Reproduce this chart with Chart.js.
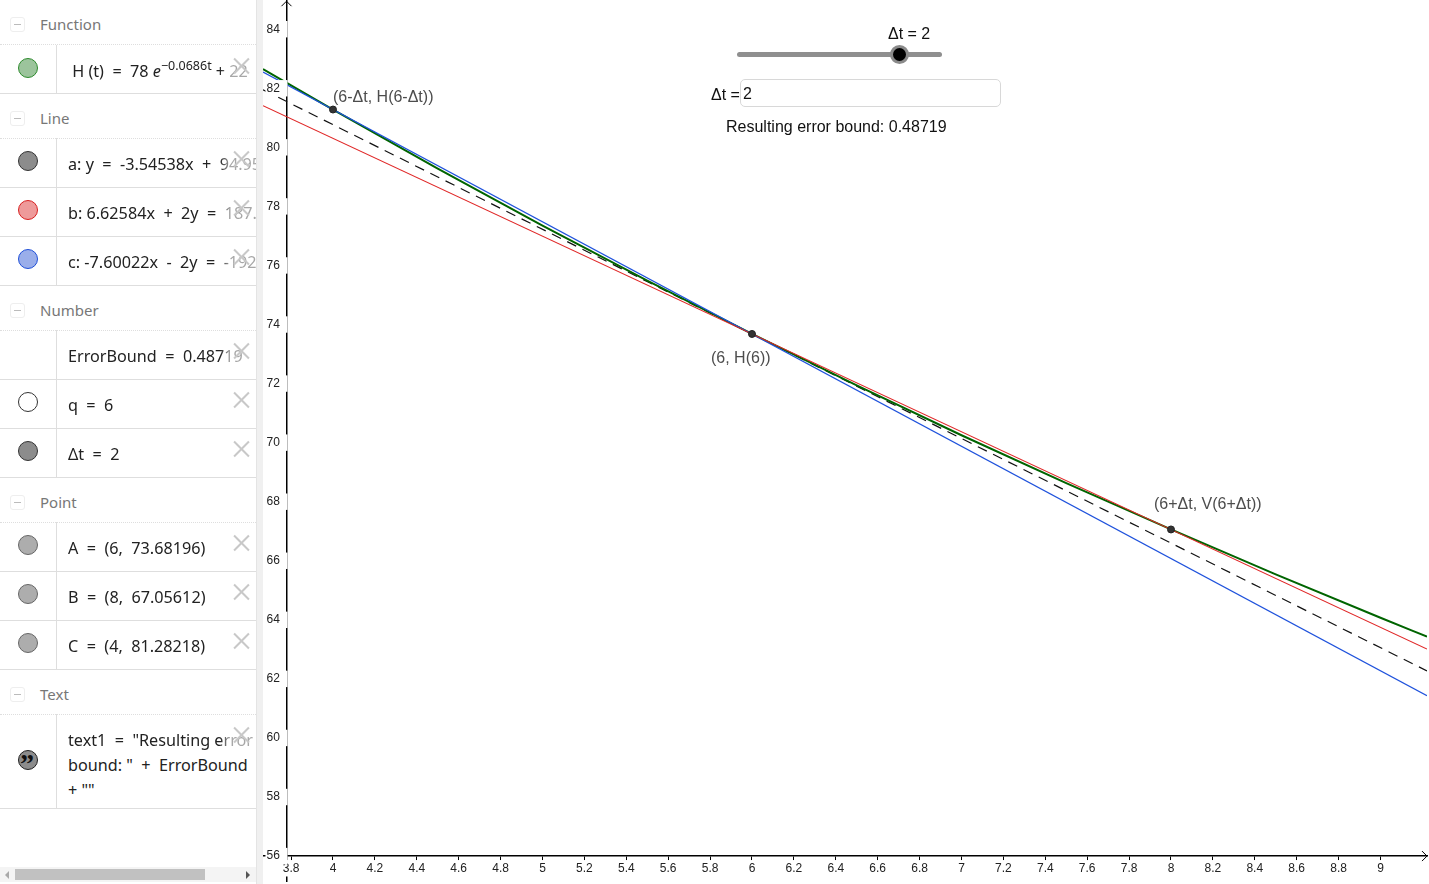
<!DOCTYPE html>
<html>
<head>
<meta charset="utf-8">
<script src="https://cdn.jsdelivr.net/npm/chart.js@4/dist/chart.umd.min.js"></script>
<style>
html, body { margin: 0; padding: 0; background: #fff; overflow: hidden; }
#wrap { position: absolute; left: 0; top: 0; width: 1429px; height: 884px; overflow: hidden; }
/* canvas is a bit larger than the window so the plot area can run to the edges */
#wrap canvas { position: absolute; left: 0; top: -10px; }
#side { position: absolute; left: 0; top: 0; width: 256px; height: 884px; background: #fff; overflow: hidden; font-family: "Noto Sans", sans-serif; }
#splitter { position: absolute; left: 256px; top: 0; width: 6px; height: 884px; background: #f0f0f0; border-left: 1px solid #e4e4e4; }
.head { position: absolute; left: 40px; font-size: 15px; color: #777; line-height: 20px; }
.fold { position: absolute; left: 10px; width: 15px; height: 15px; border: 1px solid #eee; border-radius: 3px; box-sizing: border-box; }
.fold:after { content: ""; position: absolute; left: 3px; top: 6px; width: 7px; height: 1px; background: #bbb; }
.hline { position: absolute; left: 0; width: 256px; height: 0; border-top: 1px solid #dedede; }
.hline.dash { border-top: 1px dotted #dedede; }
.vline { position: absolute; left: 56px; width: 0; border-left: 1px solid #dedede; }
.marble { position: absolute; left: 18px; width: 20px; height: 20px; border-radius: 50%; box-sizing: border-box; border: 1px solid; }
.val { position: absolute; left: 68px; width: 188px; font-size: 16.2px; color: #222; white-space: nowrap; overflow: hidden; line-height: 25px;
  -webkit-mask-image: linear-gradient(to right, #000 0, #000 152px, rgba(0,0,0,.4) 162px, rgba(0,0,0,.4) 188px); }
.val.plain { -webkit-mask-image: none; }
.val sup { font-size: 12.5px; line-height: 0; vertical-align: 7px; }
.cross { position: absolute; left: 233px; width: 17px; height: 17px; }
.cross:before, .cross:after { content: ""; position: absolute; left: -2px; top: 7px; width: 21px; height: 2px; background: #c8c8c8; }
.cross:before { transform: rotate(45deg); }
.cross:after { transform: rotate(-45deg); }
#scrollTrack { position: absolute; left: 0; top: 867px; width: 256px; height: 15px; background: #f4f4f4; }
#scrollThumb { position: absolute; left: 15px; top: 2px; width: 190px; height: 11px; background: #c1c1c1; }
#arrowL, #arrowR { position: absolute; top: 4px; width: 0; height: 0; border-top: 4px solid transparent; border-bottom: 4px solid transparent; }
#arrowL { left: 5px; border-right: 4px solid #aaa; }
#arrowR { left: 246px; border-left: 4px solid #555; }
.view { position: absolute; font-family: "Liberation Sans", sans-serif; font-size: 16px; color: #111; white-space: nowrap; line-height: 20px; }
#track { position: absolute; left: 737px; top: 52px; width: 205px; height: 5px; background: #8f8f8f; border-radius: 3px; }
#knob { position: absolute; left: 890px; top: 45px; width: 13px; height: 13px; background: #000; border-radius: 50%; border: 3px solid #8a8a8a; }
#input { position: absolute; left: 740px; top: 79px; width: 261px; height: 28px; box-sizing: border-box; border: 1.5px solid #d8d8d8; border-radius: 5px; background: #fff; padding-left: 2px; font-family: "Liberation Sans", sans-serif; font-size: 16px; line-height: 28px; color: #111; }
</style>
</head>
<body>
<div id="wrap">
  <canvas id="graphChart" width="1439" height="904"></canvas>
  <div id="splitter"></div>
  <div id="side"></div>
  <div class="view" style="left:888px;top:24px">Δt = 2</div>
  <div id="track"></div><div id="knob"></div>
  <div class="view" style="left:711px;top:85px">Δt =</div>
  <div id="input">2</div>
  <div class="view" style="left:726px;top:117px">Resulting error bound: 0.48719</div>
</div>
<script>
// Values
const curveT = [3.666, 4, 4.5, 5, 5.5, 6, 6.5, 7, 7.5, 8, 8.5, 9, 9.222];
const curveH = [82.65, 81.28, 79.28, 77.35, 75.49, 73.68, 71.94, 70.25, 68.63, 67.06, 65.54, 64.07, 63.43];
const lineT = [3.666, 9.222];
const lineA = [81.95, 62.27];
const lineB = [81.41, 63.01];
const lineC = [82.55, 61.43];
const pointT = [4, 6, 8];
const pointH = [81.28, 73.68, 67.06];
const pointLabels = ['(6-Δt, H(6-Δt))', '(6, H(6))', '(6+Δt, V(6+Δt))'];
const xTicks = [3.8, 4, 4.2, 4.4, 4.6, 4.8, 5, 5.2, 5.4, 5.6, 5.8, 6, 6.2, 6.4, 6.6, 6.8, 7, 7.2, 7.4, 7.6, 7.8, 8, 8.2, 8.4, 8.6, 8.8, 9];
const yTicks = [56, 58, 60, 62, 64, 66, 68, 70, 72, 74, 76, 78, 80, 82, 84];

// Algebra panel rows
const groupHeads = [['Function', 23], ['Line', 117], ['Number', 309], ['Point', 501], ['Text', 693]];
const algebraRows = [
    { top: 45, h: 48, c: ['#9cc49c', '#2e8b2e'], html: '&nbsp;H (t) &nbsp;=&nbsp; 78 <i>e</i><sup>−0.0686t</sup> + 22', ty: 59 },
    { top: 138, h: 49, c: ['#8c8c8c', '#333'], html: 'a: y &nbsp;=&nbsp; -3.54538x &nbsp;+&nbsp; 94.954', ty: 152 },
    { top: 187, h: 49, c: ['#ee9a9a', '#d82020'], html: 'b: 6.62584x &nbsp;+&nbsp; 2y &nbsp;=&nbsp; 187.12', ty: 201 },
    { top: 236, h: 49, c: ['#9aaeea', '#2050d8'], html: 'c: -7.60022x &nbsp;-&nbsp; 2y &nbsp;=&nbsp; -192.96', ty: 250 },
    { top: 330, h: 49, c: null, html: 'ErrorBound &nbsp;=&nbsp; 0.48719', ty: 344 },
    { top: 379, h: 49, c: ['#fff', '#333'], html: 'q &nbsp;=&nbsp; 6', ty: 393 },
    { top: 428, h: 49, c: ['#8c8c8c', '#333'], html: 'Δt &nbsp;=&nbsp; 2', ty: 442 },
    { top: 522, h: 49, c: ['#adadad', '#666'], html: 'A &nbsp;=&nbsp; (6, &nbsp;73.68196)', ty: 536 },
    { top: 571, h: 49, c: ['#adadad', '#666'], html: 'B &nbsp;=&nbsp; (8, &nbsp;67.05612)', ty: 585 },
    { top: 620, h: 49, c: ['#adadad', '#666'], html: 'C &nbsp;=&nbsp; (4, &nbsp;81.28218)', ty: 634 },
    { top: 714, h: 94, c: ['#8c8c8c', '#222'], html: 'text1 &nbsp;=&nbsp; "Resulting error', ty: 728, quote: true, more: ['bound: " &nbsp;+&nbsp; ErrorBound', '+ ""'] }
];

function addDiv(parent, cls, css, html) {
    const d = document.createElement('div');
    d.className = cls;
    d.style.cssText = css;
    if (html) d.innerHTML = html;
    parent.appendChild(d);
    return d;
}

function buildSide() {
    const side = document.getElementById('side');
    groupHeads.forEach(g => {
        addDiv(side, 'fold', 'top:' + (g[1] - 6) + 'px');
        addDiv(side, 'head', 'top:' + (g[1] - 9) + 'px', g[0]);
        addDiv(side, 'hline dash', 'top:' + (g[1] + 21) + 'px');
    });
    algebraRows.forEach(r => {
        addDiv(side, 'hline', 'top:' + (r.top + r.h) + 'px');
        addDiv(side, 'vline', 'top:' + r.top + 'px;height:' + r.h + 'px');
        if (r.c) {
            const cy = r.quote ? r.top + 36 : r.top + 13;
            const m = addDiv(side, 'marble', 'top:' + cy + 'px;background:' + r.c[0] + ';border-color:' + r.c[1]);
            if (r.quote) {
                m.innerHTML = '<span style="position:absolute;left:1px;top:-3px;font:bold 28px Liberation Serif;color:#111">”</span>';
            }
        }
        addDiv(side, 'val', 'top:' + r.ty + 'px', r.html);
        (r.more || []).forEach((line, i) => {
            addDiv(side, 'val plain', 'top:' + (r.ty + 25 * (i + 1)) + 'px', line);
        });
        addDiv(side, 'cross', 'top:' + (r.top + 13) + 'px');
    });
    const track = addDiv(side, '', '');
    track.id = 'scrollTrack';
    addDiv(track, '', '').id = 'scrollThumb';
    addDiv(track, '', '').id = 'arrowL';
    addDiv(track, '', '').id = 'arrowR';
}

function toPoints(xs, ys) {
    return xs.map((x, i) => ({ x: x, y: ys[i] }));
}

// Arrow heads on the axes and the text next to the three points
const graphExtras = {
    id: 'graphExtras',
    afterDraw(chart) {
        const ctx = chart.ctx;
        const x = chart.scales.x;
        const y = chart.scales.y;
        const ax = x.getPixelForValue(3.778);
        const ay = y.getPixelForValue(56);
        const top = chart.chartArea.top;
        ctx.save();
        ctx.strokeStyle = '#000';
        ctx.lineWidth = 1;
        ctx.beginPath();
        ctx.moveTo(ax - 5, top + 6);
        ctx.lineTo(ax, top + 1);
        ctx.lineTo(ax + 5, top + 6);
        ctx.moveTo(x.right - 5, ay - 5);
        ctx.lineTo(x.right, ay);
        ctx.lineTo(x.right - 5, ay + 5);
        ctx.stroke();
        const offsets = [[0, -12], [-41, 25], [-17, -25]];
        ctx.fillStyle = '#4d4d4d';
        ctx.font = '16px "Liberation Sans"';
        ctx.textBaseline = 'middle';
        ctx.textAlign = 'left';
        pointLabels.forEach((t, i) => {
            ctx.fillText(t, x.getPixelForValue(pointT[i]) + offsets[i][0], y.getPixelForValue(pointH[i]) + offsets[i][1]);
        });
        ctx.restore();
    }
};

function initializeGraph() {
    const ctx = document.getElementById('graphChart').getContext('2d');
    return new Chart(ctx, {
        type: 'scatter',
        data: {
            datasets: [
                { label: 'points', data: toPoints(pointT, pointH), showLine: false, pointRadius: 3.5, pointBackgroundColor: '#333', pointBorderColor: '#222', pointBorderWidth: 1 },
                { label: 'b', data: toPoints(lineT, lineB), showLine: true, borderColor: '#e02828', borderWidth: 1.2, pointRadius: 0 },
                { label: 'c', data: toPoints(lineT, lineC), showLine: true, borderColor: '#1f52dc', borderWidth: 1.2, pointRadius: 0 },
                { label: 'H', data: toPoints(curveT, curveH), showLine: true, borderColor: '#006400', borderWidth: 2, pointRadius: 0, cubicInterpolationMode: 'monotone' },
                { label: 'a', data: toPoints(lineT, lineA), showLine: true, borderColor: '#111', borderWidth: 1.2, borderDash: [10, 7], pointRadius: 0 }
            ]
        },
        options: {
            responsive: false,
            animation: false,
            layout: { padding: { left: 263, right: 12, top: 10, bottom: 13 } },
            plugins: { legend: { display: false }, tooltip: { enabled: false } },
            scales: {
                x: {
                    type: 'linear',
                    position: { y: 56 },
                    min: 3.6659,
                    max: 9.222,
                    afterBuildTicks: scale => { scale.ticks = xTicks.map(v => ({ value: v })); },
                    border: { color: '#000', width: 1.5 },
                    grid: { drawOnChartArea: false, drawTicks: true, tickLength: 4, tickColor: '#000', tickWidth: 1 },
                    ticks: {
                        autoSkip: false, maxRotation: 0, padding: 1, z: 1, color: '#222',
                        font: { family: 'Liberation Sans', size: 12 },
                        showLabelBackdrop: true, backdropColor: '#fff', backdropPadding: 1,
                        callback: v => String(v)
                    }
                },
                y: {
                    type: 'linear',
                    position: { x: 3.778 },
                    min: 55.156,
                    max: 84.982,
                    afterBuildTicks: scale => { scale.ticks = yTicks.map(v => ({ value: v })); },
                    border: { color: '#000', width: 1.5 },
                    grid: { drawOnChartArea: false, drawTicks: true, tickLength: 4, tickColor: '#000', tickWidth: 1 },
                    ticks: {
                        autoSkip: false, z: 1, color: '#222',
                        font: { family: 'Liberation Sans', size: 12 },
                        showLabelBackdrop: true, backdropColor: '#fff', backdropPadding: 1,
                        callback: v => String(v) + '\u00a0\u00a0'
                    }
                }
            }
        },
        plugins: [graphExtras]
    });
}

buildSide();
initializeGraph();
</script>
</body>
</html>
